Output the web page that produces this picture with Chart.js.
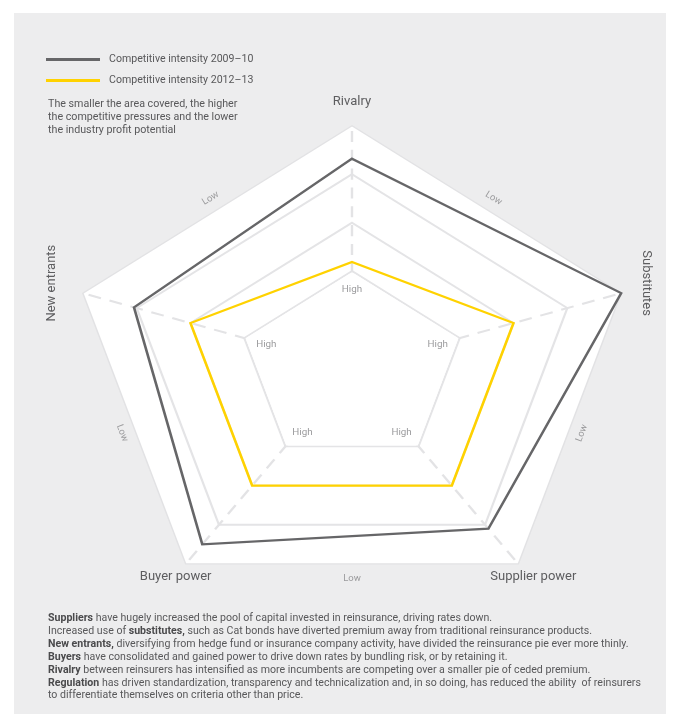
<!DOCTYPE html>
<html>
<head>
<meta charset="utf-8">
<script src="https://cdn.jsdelivr.net/npm/chart.js@4.4.1/dist/chart.umd.min.js"></script>
<style>
  html, body { margin: 0; padding: 0; background: #fff; }
  #wrap { position: relative; width: 680px; height: 726px; overflow: hidden; font-family: Roboto, "Liberation Sans", sans-serif; color: #58585a; }
  #panel { position: absolute; left: 14px; top: 13px; width: 652px; height: 701px; background: #ededee; }
  #chart { position: absolute; left: 0; top: 0; }
  #legend { position: absolute; left: 46px; top: 49px; }
  .item { position: relative; height: 20.5px; }
  .item .swatch { position: absolute; left: 0; top: 9px; width: 54px; height: 3px; }
  .item .name { position: absolute; left: 63px; top: 2px; font-size: 10.6px; line-height: 16px; white-space: nowrap; }
  #note { position: absolute; left: 48px; top: 97px; font-size: 10.7px; line-height: 13px; white-space: nowrap; }
  #foot { position: absolute; left: 48px; top: 612px; font-size: 10.6px; line-height: 12.9px; white-space: nowrap; }
  #foot b { font-weight: 700; color: #4a4a4c; }
</style>
</head>
<body>
<div id="wrap">
  <div id="panel"></div>
  <canvas id="chart" width="680" height="726"></canvas>
  <div id="legend"></div>
  <div id="note">The smaller the area covered, the higher<br>the competitive pressures and the lower<br>the industry profit potential</div>
  <div id="foot"><b>Suppliers</b> have hugely increased the pool of capital invested in reinsurance, driving rates down.<br>Increased use of <b>substitutes,</b> such as Cat bonds have diverted premium away from traditional reinsurance products.<br><b>New entrants,</b> diversifying from hedge fund or insurance company activity, have divided the reinsurance pie ever more thinly.<br><b>Buyers</b> have consolidated and gained power to drive down rates by bundling risk, or by retaining it.<br><b>Rivalry</b> between reinsurers has intensified as more incumbents are competing over a smaller pie of ceded premium.<br><b>Regulation</b> has driven standardization, transparency and technicalization and, in so doing, has reduced the ability&nbsp; of reinsurers<br>to differentiate themselves on criteria other than price.</div>
</div>
<script>
// five forces, clockwise from the top
const forces = ['Rivalry', 'Substitutes', 'Supplier power', 'Buyer power', 'New entrants'];
// 0 = centre, 2 = "High" ring, 5 = "Low" (outer) ring
const intensity2009 = [4.32, 5.0, 4.1, 4.5, 4.05];
const intensity2012 = [2.19, 3.0, 3.0, 3.0, 3.0];
const seriesNames = ['Competitive intensity 2009–10', 'Competitive intensity 2012–13'];
const seriesColors = ['#666668', '#ffd200'];
const ringLevels = [0, 1, 2, 3, 4, 5];
const highLevel = 2;
const highText = 'High';
const lowText = 'Low';

// the printed pentagon is flatter than a regular one
const SQUASH = 0.856;

// label placement (style only)
const forceOffsets = [[0, -24, 0], [25, -10, 90], [15, 13, 0], [-10, 13, 0], [-31, -10, -90]];
const highOffsets = [[0, 18], [-22, 6], [-17, -14], [17, -14], [22, 6]];
const lowGap = [13, 13, 15, 13, 13];

function screenPoint(s, i, value) {
  const p = s.getPointPosition(i, s.getDistanceFromCenterForValue(value));
  return { x: p.x, y: s.yCenter + (p.y - s.yCenter) * SQUASH };
}

const pentagonPlugin = {
  id: 'pentagon',
  beforeDraw(chart) {
    const s = chart.scales.r;
    const ctx = chart.ctx;
    ctx.save();
    ctx.translate(0, s.yCenter);
    ctx.scale(1, SQUASH);
    ctx.translate(0, -s.yCenter);
  },
  beforeDatasetsDraw(chart) {
    // plain white core inside the "High" ring
    const s = chart.scales.r;
    const ctx = chart.ctx;
    const r = s.getDistanceFromCenterForValue(highLevel) - 1.2;
    ctx.beginPath();
    forces.forEach((f, i) => {
      const p = s.getPointPosition(i, r);
      if (i === 0) ctx.moveTo(p.x, p.y); else ctx.lineTo(p.x, p.y);
    });
    ctx.closePath();
    ctx.fillStyle = '#ffffff';
    ctx.fill();
  },
  afterDatasetsDraw(chart) {
    chart.ctx.restore();
  },
  afterDraw(chart) {
    const s = chart.scales.r;
    const ctx = chart.ctx;
    const max = ringLevels[ringLevels.length - 1];
    ctx.save();
    ctx.textAlign = 'center';
    ctx.textBaseline = 'middle';

    // force names
    ctx.fillStyle = '#5d5d5f';
    ctx.font = '13px Roboto';
    forces.forEach((f, i) => {
      const p = screenPoint(s, i, max);
      const [dx, dy, rot] = forceOffsets[i];
      ctx.save();
      ctx.translate(p.x + dx, p.y + dy);
      ctx.rotate(rot * Math.PI / 180);
      ctx.fillText(f, 0, 0);
      ctx.restore();
    });

    // "High" at the inner ring
    ctx.fillStyle = '#9b9b9d';
    ctx.font = '9.8px Roboto';
    forces.forEach((f, i) => {
      const p = screenPoint(s, i, highLevel);
      ctx.fillText(highText, p.x + highOffsets[i][0], p.y + highOffsets[i][1]);
    });

    // "Low" along the outer edges
    ctx.font = '9.5px Roboto';
    const cx = s.xCenter, cy = s.yCenter;
    forces.forEach((f, i) => {
      const a = screenPoint(s, i, max);
      const b = screenPoint(s, (i + 1) % forces.length, max);
      const mx = (a.x + b.x) / 2, my = (a.y + b.y) / 2;
      const len = Math.hypot(b.x - a.x, b.y - a.y);
      let nx = -(b.y - a.y) / len, ny = (b.x - a.x) / len;
      if (nx * (mx - cx) + ny * (my - cy) < 0) { nx = -nx; ny = -ny; }
      let ang = Math.atan2(b.y - a.y, b.x - a.x);
      if (ang > Math.PI / 2) ang -= Math.PI;
      if (ang < -Math.PI / 2) ang += Math.PI;
      ctx.save();
      ctx.translate(mx + nx * lowGap[i], my + ny * lowGap[i]);
      ctx.rotate(ang);
      ctx.fillText(lowText, 0, 0);
      ctx.restore();
    });
    ctx.restore();
  }
};

const chart = new Chart(document.getElementById('chart'), {
  type: 'radar',
  data: {
    labels: forces,
    datasets: [
      { label: seriesNames[0], data: intensity2009, borderColor: seriesColors[0], borderWidth: 2.6, fill: false, pointRadius: 0, pointHoverRadius: 0, tension: 0 },
      { label: seriesNames[1], data: intensity2012, borderColor: seriesColors[1], borderWidth: 2.6, fill: false, pointRadius: 0, pointHoverRadius: 0, tension: 0 }
    ]
  },
  options: {
    responsive: false,
    animation: false,
    layout: { padding: { left: 69, right: 45, top: 85, bottom: 75 } },
    plugins: { legend: { display: false }, tooltip: { enabled: false } },
    elements: { line: { borderJoinStyle: 'miter' } },
    scales: {
      r: {
        min: ringLevels[0],
        max: ringLevels[ringLevels.length - 1],
        beginAtZero: true,
        backgroundColor: '#ffffff',
        ticks: { stepSize: 1, display: false },
        pointLabels: { display: false },
        grid: {
          color: (c) => c.index === ringLevels.length - 1 ? '#e2e2e4' : '#e4e4e6',
          lineWidth: (c) => c.index === ringLevels.length - 1 ? 1.5 : 2.2
        },
        angleLines: { color: '#e3e3e5', lineWidth: 2.4, borderDash: [13, 9] }
      }
    }
  },
  plugins: [pentagonPlugin]
});

// legend built from the series
const legend = document.getElementById('legend');
seriesNames.forEach((name, i) => {
  const row = document.createElement('div');
  row.className = 'item';
  row.innerHTML = '<div class="swatch" style="background:' + seriesColors[i] + '"></div><div class="name">' + name + '</div>';
  legend.appendChild(row);
});
</script>
</body>
</html>
